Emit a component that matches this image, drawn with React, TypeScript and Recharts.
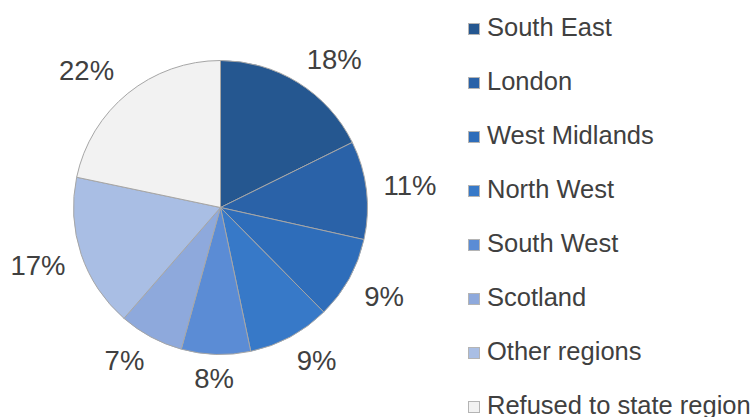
import { Cell, Pie, PieChart } from "recharts";

const regions = [
  "South East",
  "London",
  "West Midlands",
  "North West",
  "South West",
  "Scotland",
  "Other regions",
  "Refused to state region",
];

// shares; labels show the rounded values
const shares = [17.7, 10.8, 9.1, 9.1, 7.6, 7.1, 16.9, 21.7];
const shareLabels = ["18%", "11%", "9%", "9%", "8%", "7%", "17%", "22%"];

const COLORS = [
  "#255790",
  "#2a62a8",
  "#2e6dba",
  "#3779c8",
  "#5b8cd5",
  "#8ea9dc",
  "#a9bee4",
  "#f2f2f2",
];

const TEXT = "#404040";
const FONT = "'Liberation Sans', Arial, sans-serif";
const LABEL_SIZE = 27.5;
const RAD = Math.PI / 180;

const chartData = regions.map((name, i) => ({
  name,
  value: shares[i],
  label: shareLabels[i],
}));

// rough Arial advance widths, just to size the label box
function textWidth(text: string) {
  let w = 0;
  for (const ch of text) w += ch === "%" ? 0.889 : 0.556;
  return w * LABEL_SIZE;
}

// outside-end label, box pushed away from the pie (Excel style)
function renderLabel(props: any) {
  const { cx, cy, midAngle, outerRadius, index } = props;
  const text = shareLabels[index];
  const halfW = textWidth(text) / 2 + 10;
  const halfH = 18.4;
  const dx = Math.cos(-midAngle * RAD);
  const dy = Math.sin(-midAngle * RAD);
  const ease = (t: number) => Math.min(1, Math.abs(t) / 0.6) * Math.sign(t);
  const r = outerRadius + 6;
  return (
    <text
      x={cx + r * dx + halfW * ease(dx)}
      y={cy + r * dy + halfH * ease(dy)}
      fill={TEXT}
      fontSize={LABEL_SIZE}
      fontFamily={FONT}
      textAnchor="middle"
      dominantBaseline="central"
    >
      {text}
    </text>
  );
}

function LegendList() {
  return (
    <div style={{ position: "absolute", left: 468, top: 0, fontFamily: FONT }}>
      {regions.map((name, i) => (
        <div
          key={name}
          style={{
            display: "flex",
            alignItems: "center",
            height: 54,
            color: TEXT,
            fontSize: 25.5,
            whiteSpace: "nowrap",
          }}
        >
          <span
            style={{
              display: "inline-block",
              width: 10,
              height: 10,
              marginTop: 4,
              background: COLORS[i],
              border: "1px solid #b4b4b4",
              marginRight: 7,
            }}
          />
          {name}
        </div>
      ))}
    </div>
  );
}

export default function App() {
  return (
    <div
      style={{
        position: "absolute",
        left: 0,
        top: 0,
        width: 753,
        height: 417,
        background: "#fff",
        overflow: "hidden",
      }}
    >
      <PieChart
        width={753}
        height={417}
        margin={{ top: 0, right: 0, bottom: 0, left: 0 }}
      >
        <Pie
          data={chartData}
          dataKey="value"
          nameKey="name"
          cx={220.5}
          cy={207.5}
          outerRadius={147}
          startAngle={90}
          endAngle={-270}
          stroke="#a6a6a6"
          strokeWidth={1}
          label={renderLabel}
          labelLine={false}
          isAnimationActive={false}
        >
          {chartData.map((d, i) => (
            <Cell key={d.name} fill={COLORS[i]} />
          ))}
        </Pie>
      </PieChart>
      <LegendList />
    </div>
  );
}
